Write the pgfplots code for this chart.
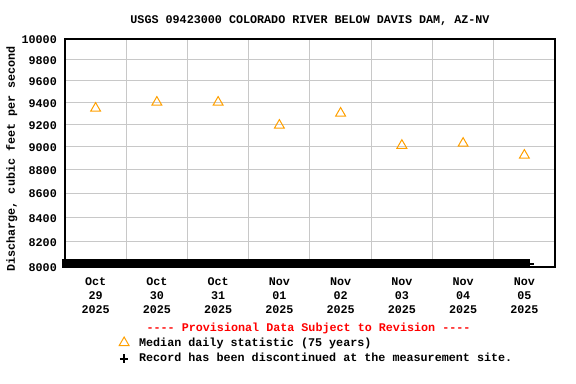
\documentclass[border=0pt]{standalone}
\usepackage{fontspec}
\setmainfont{Liberation Mono}[Ligatures=TeXOff]
\usepackage{pgfplots}
\pgfplotsset{compat=1.18}
\definecolor{medorange}{RGB}{255,160,0}
\definecolor{gridgray}{RGB}{200,200,200}
\definecolor{provred}{RGB}{255,0,0}
\newcommand{\ff}{\fontsize{8.8}{10.5}\selectfont\bfseries}
\begin{document}
\begin{tikzpicture}
\useasboundingbox (0,0) rectangle (432pt,288pt);
\begin{axis}[
  at={(48.75pt,87.75pt)}, anchor=south west,
  scale only axis, width=367.5pt, height=171pt,
  ymode=log,
  xmin=0, xmax=8, ymin=8000, ymax=10000,
  clip=false,
  axis line style={black, line width=1.5pt},
  ytick={8000,8200,8400,8600,8800,9000,9200,9400,9600,9800,10000},
  yticklabels={8000,8200,8400,8600,8800,9000,9200,9400,9600,9800,10000},
  xtick={0.5,1.5,...,7.5},
  xticklabels={{Oct\\29\\2025},{Oct\\30\\2025},{Oct\\31\\2025},{Nov\\01\\2025},{Nov\\02\\2025},{Nov\\03\\2025},{Nov\\04\\2025},{Nov\\05\\2025}},
  minor xtick={1,2,...,7},
  yminorticks=false,
  xminorgrids=true, ymajorgrids=true, xmajorgrids=false,
  grid style={gridgray, line width=0.75pt},
  minor grid style={gridgray, line width=0.75pt},
  major tick length=0pt, minor tick length=0pt,
  tick style={draw=none},
  yticklabel style={font=\ff, anchor=east, xshift=-2.6pt, yshift=-0.8pt},
  xticklabel style={font=\ff, align=center, anchor=north, yshift=-4.8pt},
  ylabel={Discharge, cubic feet per second},
  ylabel style={font=\ff, at={(axis description cs:-0.1088,0.474)}, rotate=0, anchor=center},
  title={USGS 09423000 COLORADO RIVER BELOW DAVIS DAM, AZ-NV},
  title style={font=\ff, at={(axis description cs:0.5,1.044)}, anchor=center},
  legend style={draw=none, fill=none, font=\ff, at={(axis description cs:0.11,-0.297)}, anchor=north west, inner sep=0pt, row sep=0pt, cells={anchor=west},
    /tikz/every odd column/.append style={column sep=5.5pt}},
]
\addplot[only marks, mark=triangle, mark size=4.3pt, medorange, line width=0.75pt]
  coordinates {(0.5,9343) (1.5,9398) (2.5,9398) (3.5,9189) (4.5,9298) (5.5,9010) (6.5,9028) (7.5,8923)};
\addlegendentry{Median daily statistic (75 years)}
\addplot[black, line width=6.75pt, forget plot] coordinates {(-0.05,8029) (7.59,8029)};
\addplot[black, line width=1.5pt, forget plot] coordinates {(7.59,8026) (7.66,8026)};
\addlegendimage{only marks, mark=+, mark size=3.2pt, black, line width=1.6pt}
\addlegendentry{Record has been discontinued at the measurement site.}
\node[font=\ff, text=provred] at (axis description cs:0.497,-0.271) {---- Provisional Data Subject to Revision ----};
\end{axis}
\end{tikzpicture}
\end{document}
